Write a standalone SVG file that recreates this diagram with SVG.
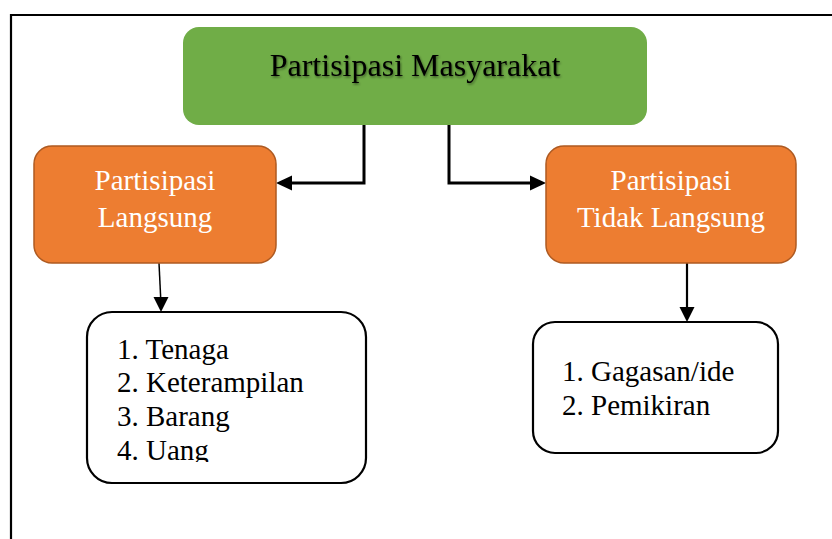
<svg xmlns="http://www.w3.org/2000/svg" width="832" height="539" viewBox="0 0 832 539">
  <style>
    .t { font-family: "Liberation Serif", "Times New Roman", serif; }
    .title { font-size: 32px; fill: #000000; }
    .ot { font-size: 29px; fill: #ffffff; }
    .lt { font-size: 29px; fill: #000000; }
    .orange { fill: #ED7D31; stroke: #AE5A21; stroke-width: 1.5; }
    .list { fill: #ffffff; stroke: #000000; stroke-width: 2.2; }
    .thick { fill: none; stroke: #000000; stroke-width: 3; }
    .thin { fill: none; stroke: #000000; stroke-width: 1.5; }
    .mid { fill: none; stroke: #000000; stroke-width: 2.2; }
  </style>
  <defs>
    <filter id="shadow" x="-10%" y="-30%" width="120%" height="160%">
      <feDropShadow dx="1" dy="1.5" stdDeviation="1" flood-color="#000000" flood-opacity="0.45"/>
    </filter>
    <clipPath id="clipLeft">
      <rect x="87" y="312" width="279" height="150"/>
    </clipPath>
  </defs>
  <rect width="832" height="539" fill="#ffffff"/>
  <!-- frame -->
  <path d="M11,545 L11,15 L840,15" fill="none" stroke="#000000" stroke-width="2.2"/>

  <g id="connectors">
    <polyline class="thick" points="364,125 364,183 290,183"/>
    <polygon points="276,183 292,175.5 292,190.5" fill="#000000"/>
    <polyline class="thick" points="449,125 449,183 532,183"/>
    <polygon points="546,183 530,175.5 530,190.5" fill="#000000"/>
    <line class="thin" x1="159" y1="263" x2="160.7" y2="298"/>
    <polygon points="161,312 153.5,297 168.5,297" fill="#000000"/>
    <line class="mid" x1="687" y1="263" x2="687" y2="308"/>
    <polygon points="687,322 679.5,307 694.5,307" fill="#000000"/>
  </g>

  <g id="node-root">
    <rect x="183" y="27" width="464" height="98" rx="16" ry="16" fill="#70AD47"/>
    <text class="t title" x="415" y="76" text-anchor="middle" filter="url(#shadow)">Partisipasi Masyarakat</text>
  </g>

  <g id="node-langsung">
    <rect class="orange" x="34" y="146" width="242" height="117" rx="18" ry="18"/>
    <text class="t ot" x="155" y="190" text-anchor="middle">Partisipasi</text>
    <text class="t ot" x="155" y="227" text-anchor="middle">Langsung</text>
  </g>

  <g id="node-tidak-langsung">
    <rect class="orange" x="546" y="146" width="250" height="117" rx="18" ry="18"/>
    <text class="t ot" x="671" y="190" text-anchor="middle">Partisipasi</text>
    <text class="t ot" x="671" y="227" text-anchor="middle">Tidak Langsung</text>
  </g>

  <g id="node-list-langsung">
    <rect class="list" x="87" y="312" width="279" height="171" rx="25" ry="25"/>
    <g clip-path="url(#clipLeft)">
      <text class="t lt" x="117" y="359">1. Tenaga</text>
      <text class="t lt" x="117" y="392">2. Keterampilan</text>
      <text class="t lt" x="117" y="426">3. Barang</text>
      <text class="t lt" x="117" y="460">4. Uang</text>
    </g>
  </g>

  <g id="node-list-tidak">
    <rect class="list" x="533" y="322" width="245" height="131" rx="22" ry="22"/>
    <text class="t lt" x="562" y="381">1. Gagasan/ide</text>
    <text class="t lt" x="562" y="415">2. Pemikiran</text>
  </g>
</svg>
